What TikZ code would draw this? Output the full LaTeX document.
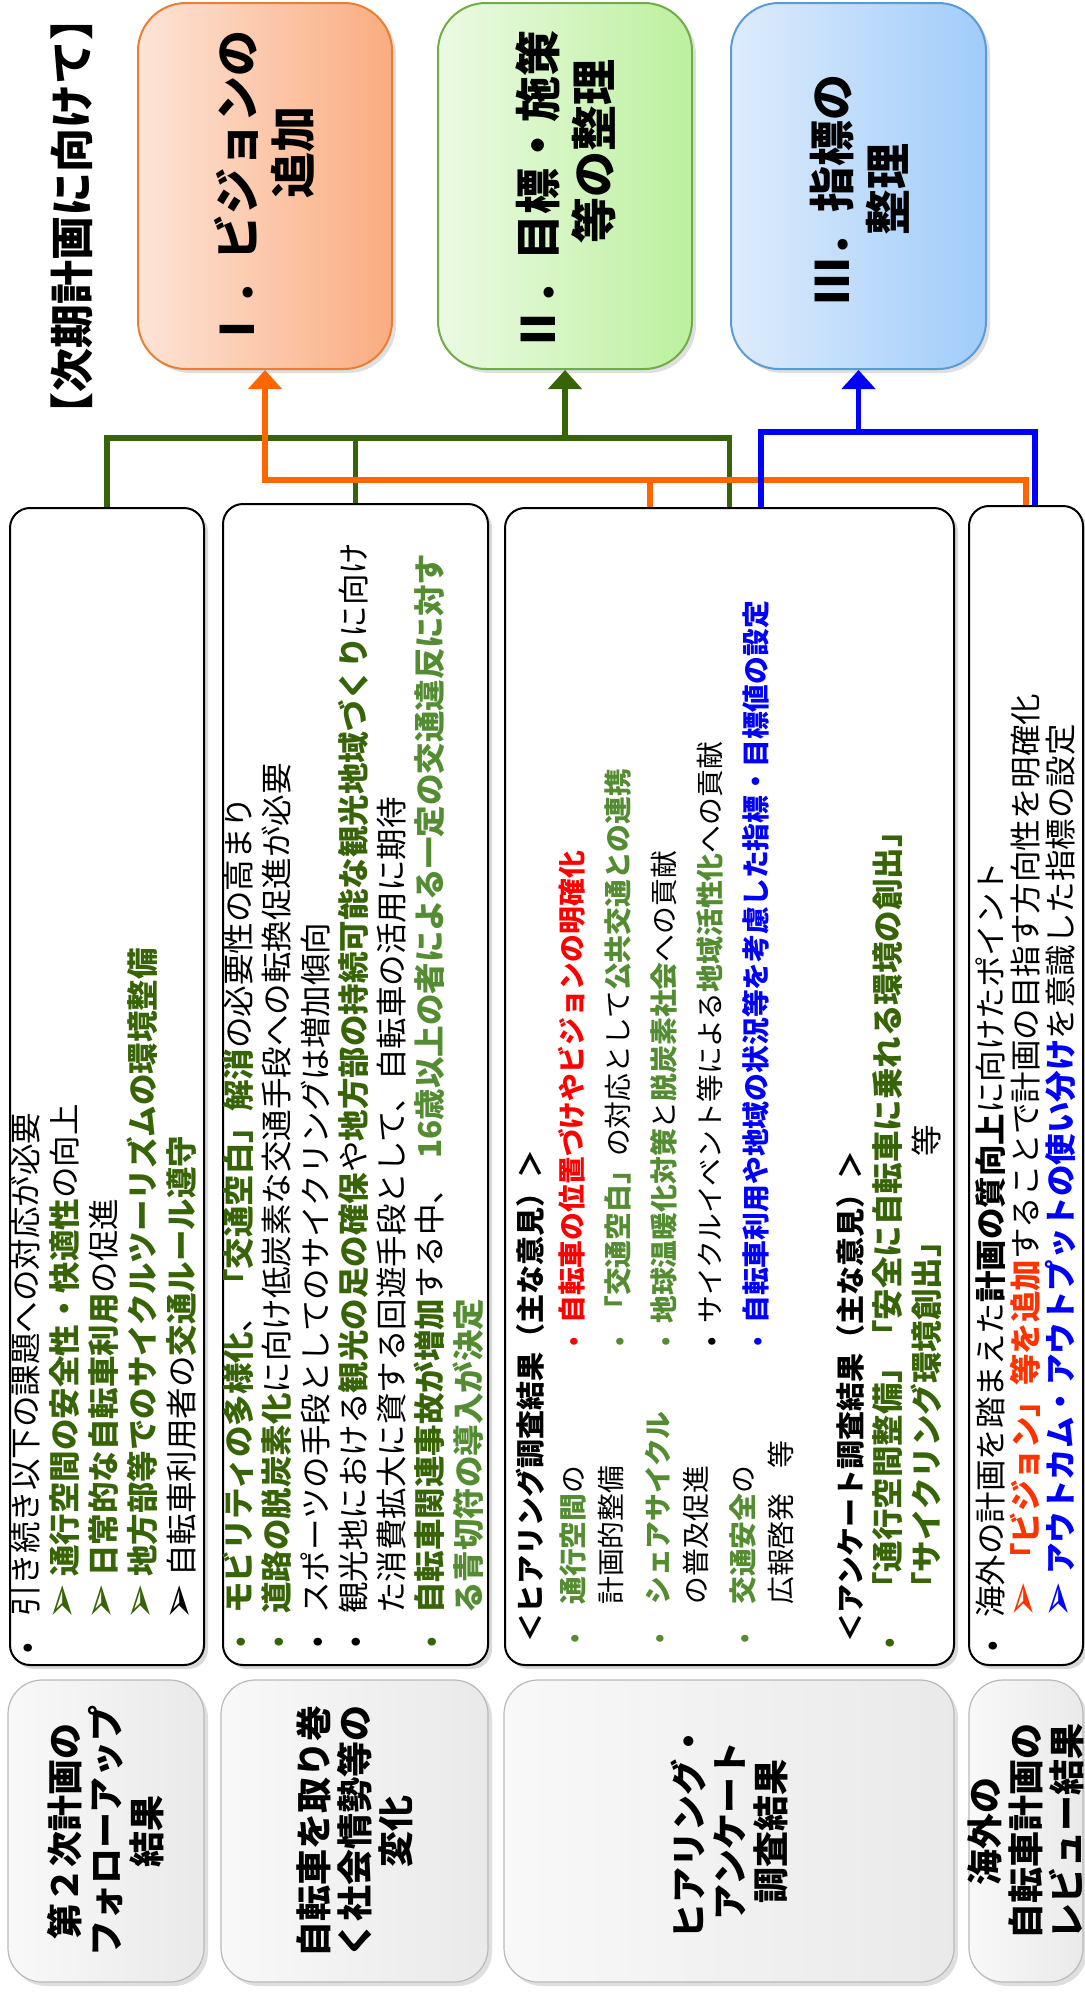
\documentclass[tikz,border=0pt]{standalone}
\usepackage{fontspec}
\usepackage{graphicx}
\setmainfont{Noto Sans CJK JP}
\newfontfamily\dingfont{DejaVu Sans}
\usetikzlibrary{arrows.meta,shadows}

\definecolor{dgreen}{RGB}{56,100,8}
\definecolor{lgreen}{RGB}{84,140,50}
\definecolor{lorange}{RGB}{255,102,0}
\definecolor{vred}{RGB}{255,51,0}
\definecolor{oL}{RGB}{253,228,214}
\definecolor{oD}{RGB}{250,172,128}
\definecolor{oB}{RGB}{237,125,49}
\definecolor{gL}{RGB}{236,250,228}
\definecolor{gD}{RGB}{188,240,158}
\definecolor{gB}{RGB}{112,173,71}
\definecolor{bL}{RGB}{222,236,252}
\definecolor{bD}{RGB}{160,204,250}
\definecolor{bB}{RGB}{91,155,213}

\newcommand{\grn}[1]{{\bfseries\color{dgreen}#1}}
\newcommand{\lgrn}[1]{{\bfseries\color{lgreen}#1}}
\newcommand{\tst}{\rule{0pt}{0.88em}}
\newcommand{\bult}[2][0.5em]{\llap{\makebox[1em][c]{\textcolor{#2}{•}}\hspace{#1}}}
\newcommand{\arrh}[1]{\llap{\makebox[1em][c]{\scalebox{1.4}{\dingfont\textcolor{#1}{➢}}}\hspace{0.3em}}}

\begin{document}
\begin{tikzpicture}[x=0.5pt,y=0.5pt,yscale=-1,
    txt/.style={rotate=90, anchor=north west, inner sep=0pt, align=left, font=\fontsize{15.75pt}{19.5pt}\selectfont},
    ctxt/.style={txt, font=\bfseries\fontsize{23pt}{28pt}\selectfont},
    gtxt/.style={rotate=90, inner sep=0pt, align=center, font=\bfseries\fontsize{18pt}{20.5pt}\selectfont},
    wbox/.style={draw, line width=1pt, rounded corners=10pt, fill=white, inner sep=0pt,
      drop shadow={shadow xshift=2pt, shadow yshift=-2pt, opacity=0.3}},
    gbox/.style={draw=gray!55, line width=0.6pt, rounded corners=17pt, left color=gray!5, right color=gray!17, inner sep=0pt,
      drop shadow={shadow xshift=2pt, shadow yshift=-2pt, opacity=0.25}},
    cbox/.style={line width=1pt, rounded corners=24pt, inner sep=0pt,
      drop shadow={shadow xshift=2pt, shadow yshift=-2pt, opacity=0.25}},
    gline/.style={draw=dgreen, line width=2.75pt},
    oline/.style={draw=lorange, line width=2.75pt},
    bline/.style={draw=blue, line width=2.75pt},
    tip/.style={-{Triangle[length=9.5pt,width=16.5pt]}}]
\useasboundingbox (0,0) rectangle (1085,1993);

% target boxes
\node[cbox, draw=oB, left color=oL, right color=oD, minimum width=127pt, minimum height=183pt] (c1) at (265,186) {};
\node[cbox, draw=gB, left color=gL, right color=gD, minimum width=127pt, minimum height=183pt] (c2) at (565,186) {};
\node[cbox, draw=bB, left color=bL, right color=bD, minimum width=127.5pt, minimum height=183pt] (c3) at (858.5,186) {};

% content boxes
\node[wbox, minimum width=97pt, minimum height=578.5pt] (w1) at (107,1086.5) {};
\node[wbox, minimum width=132.5pt, minimum height=580.5pt] (w2) at (355.5,1084.5) {};
\node[wbox, minimum width=224.5pt, minimum height=578.5pt] (w3) at (729.5,1086.5) {};
\node[wbox, minimum width=57pt, minimum height=579.5pt] (w4) at (1026,1085.5) {};

% source boxes
\node[gbox, minimum width=98pt, minimum height=151pt] (g1) at (106,1831) {};
\node[gbox, minimum width=133.5pt, minimum height=151pt] (g2) at (354.5,1831) {};
\node[gbox, minimum width=225pt, minimum height=151pt] (g3) at (729,1831) {};
\node[gbox, minimum width=57pt, minimum height=151pt] (g4) at (1026,1831) {};

% connectors
\coordinate (gbus) at (0,438);
\coordinate (obus) at (0,480);
\coordinate (bbus) at (0,432);
\draw[gline] (w1.north) |- (w3.north |- gbus) -- (w3.north);
\draw[gline, tip] (w2.north) |- (c2.south |- gbus) -- (c2.south);
\draw[oline, tip] (w4.north) |- (c1.south |- obus) -- (c1.south);
\draw[oline] (w3.north -| 650,0) -- (obus -| 650,0);
\draw[bline] (w3.north -| 761,0) |- (bbus -| 1035,0) -- (w4.north -| 1035,0);
\draw[bline, tip] (bbus -| c3.south) -- (c3.south);

% title
\node[txt, font=\bfseries\fontsize{22pt}{22pt}\selectfont] (ttl) at (49,437) {\tst【次期計画に向けて】};

% target texts
\node[ctxt] (t1) at (214,353) {\tst Ⅰ．ビジョンの\\\hspace*{3.35em}追加};
\node[ctxt] (t2) at (515,353) {\tst Ⅱ．目標・施策\\\hspace*{2.37em}等の整理};
\node[ctxt, align=center] (t3) at (809,305) {\tst Ⅲ．指標の\\整理};

% box 1
\node[txt] (w1t) at (9.3,1617) {\tst\bult{black}引き続き以下の課題への対応が必要\\
  \hspace*{20pt}\arrh{dgreen}\grn{通行空間の安全性・快適性}の向上\\
  \hspace*{20pt}\arrh{dgreen}\grn{日常的な自転車利用}の促進\\
  \hspace*{20pt}\arrh{dgreen}\grn{地方部等でのサイクルツーリズムの環境整備}\\
  \hspace*{20pt}\arrh{black}自転車利用者の\grn{交通ルール遵守}};

% box 2
\node[txt, font=\fontsize{15.75pt}{19.15pt}\selectfont] (w2t) at (222.3,1614) {\tst\bult[0.42em]{dgreen}\grn{モビリティの多様化}、\grn{「交通空白」解消}の必要性の高まり\\
  \bult[0.42em]{dgreen}\grn{道路の脱炭素化}に向け低炭素な交通手段への転換促進が必要\\
  \bult[0.42em]{black}スポーツの手段としてのサイクリングは増加傾向\\
  \bult[0.42em]{black}観光地における\grn{観光の足の確保}や\grn{地方部の持続可能な観光地域づくり}に向け\\
  た消費拡大に資する回遊手段として、自転車の活用に期待\\
  \bult[0.42em]{dgreen}\grn{自転車関連事故が増加}する中、\hspace{0.45em}\lgrn{16歳以上の者による一定の交通違反に対す}\\
  \lgrn{る青切符の導入が決定}};

% box 3
\node[txt, font=\bfseries\fontsize{14.5pt}{17pt}\selectfont] (h1) at (515.5,1643) {\tst＜ヒアリング調査結果（主な意見）＞};
\node[txt, font=\fontsize{13.9pt}{18.75pt}\selectfont] (hl) at (559.1,1605) {\tst\bult[0.72em]{lgreen}\lgrn{通行空間}の\\
  計画的整備\\[5pt]
  \bult[0.72em]{lgreen}\lgrn{シェアサイクル}\\
  の普及促進\\[5pt]
  \bult[0.72em]{lgreen}\lgrn{交通安全}の\\
  広報啓発\hspace{0.9em}等};
\node[txt, font=\fontsize{13.9pt}{23pt}\selectfont] (hr) at (558.1,1324) {\tst\bult[0.15em]{red}{\bfseries\color{red}自転車の位置づけやビジョンの明確化}\\
  \bult[0.15em]{lgreen}\lgrn{「交通空白」}の対応として\lgrn{公共交通との連携}\\
  \bult[0.15em]{lgreen}\lgrn{地球温暖化対策}と\lgrn{脱炭素社会}への貢献\\
  \bult[0.15em]{black}サイクルイベント等による\lgrn{地域活性化}への貢献\\
  \bult[0.15em]{blue}{\bfseries\color{blue}自転車利用や地域の状況等を考慮した指標・目標値の設定}};
\node[txt, font=\bfseries\fontsize{14.5pt}{17pt}\selectfont] (h2) at (835.5,1643) {\tst＜アンケート調査結果（主な意見）＞};
\node[txt] (hs) at (871.25,1604) {\tst\bult[0.74em]{dgreen}\grn{「通行空間整備」「安全に自転車に乗れる環境の創出」}\\
  \grn{「サイクリング環境創出」}\hspace{2.2em}等};

% box 4
\node[txt, font=\fontsize{15.75pt}{17.5pt}\selectfont] (w4t) at (974.25,1618) {\tst\bult[0.42em]{black}海外の計画を踏まえた{\bfseries 計画の質向上}に向けたポイント\\
  \hspace*{21.5pt}\arrh{vred}{\bfseries\color{vred}「ビジョン」等を追加}することで計画の目指す方向性を明確化\\
  \hspace*{21.5pt}\arrh{blue}{\bfseries\color{blue}アウトカム・アウトプットの使い分け}を意識した指標の設定};

% source texts
\node[gtxt] (g1t) at (g1) {第２次計画の\\フォローアップ\\結果};
\node[gtxt] (g2t) at (g2) {自転車を取り巻\\く社会情勢等の\\変化};
\node[gtxt] (g3t) at (g3) {ヒアリング・\\アンケート\\調査結果};
\node[gtxt] (g4t) at (g4) {海外の\\自転車計画の\\レビュー結果};
\end{tikzpicture}
\end{document}
